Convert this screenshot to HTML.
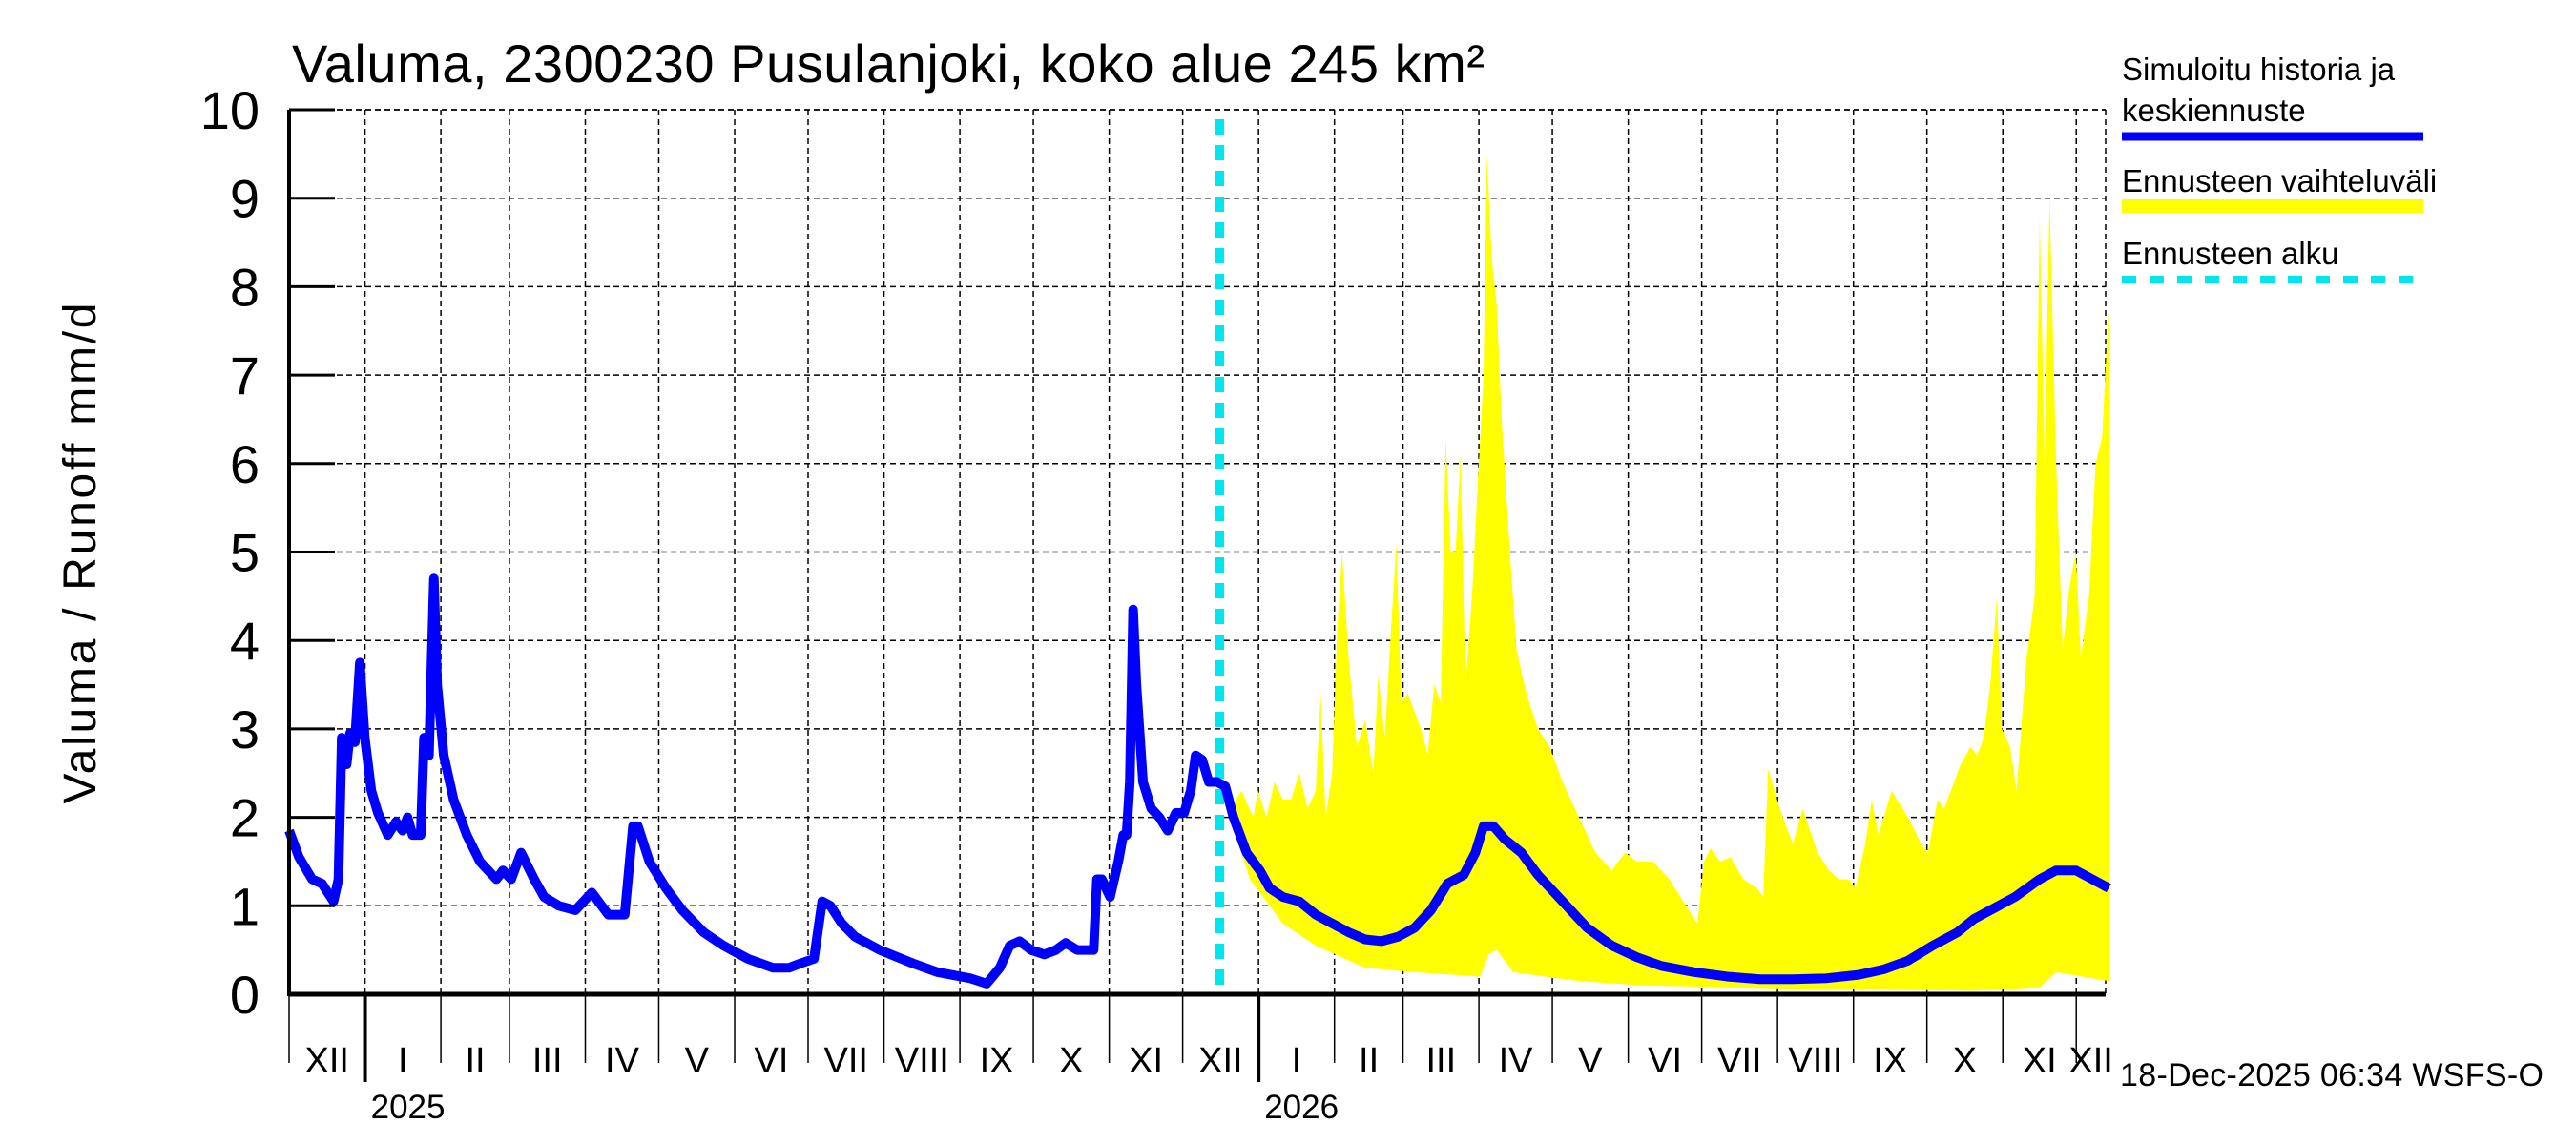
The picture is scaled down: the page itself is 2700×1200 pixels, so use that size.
<!DOCTYPE html>
<html><head><meta charset="utf-8"><style>
html,body{margin:0;padding:0;background:#fff;}
svg{display:block;font-family:"Liberation Sans",sans-serif;}
</style></head><body>
<svg id="chart" width="2700" height="1200" viewBox="0 0 2700 1200" xmlns="http://www.w3.org/2000/svg">
<text x="306" y="86" font-size="56" textLength="1250">Valuma, 2300230 Pusulanjoki, koko alue 245 km²</text>
<text transform="translate(100,580) rotate(-90)" text-anchor="middle" font-size="48" textLength="525">Valuma / Runoff    mm/d</text>
<g id="grid"></g>
<g id="band"></g>
<g id="lines"></g>
<g id="axes"></g>
<g>
<text x="2224" y="84" font-size="33">Simuloitu historia ja</text>
<text x="2224" y="127" font-size="33">keskiennuste</text>
<line x1="2224" y1="143" x2="2540" y2="143" stroke="#0000ff" stroke-width="9"/>
<text x="2224" y="201" font-size="33">Ennusteen vaihteluväli</text>
<line x1="2224" y1="216" x2="2540" y2="216" stroke="#ffff00" stroke-width="14"/>
<text x="2224" y="277" font-size="33">Ennusteen alku</text>
<line x1="2224" y1="293" x2="2540" y2="293" stroke="#00e5ee" stroke-width="8" stroke-dasharray="15,14"/>
</g>
<text x="2222" y="1138" font-size="34" textLength="444">18-Dec-2025 06:34 WSFS-O</text>
</svg>
<script>
const NS='http://www.w3.org/2000/svg';
const histX=[176,182,190,196,203,206,208,211,213,216,219,222,226,230,236,241,245,248,251,256,258,261,264,266,270,276,284,292,302,306,311,317,325,331,340,350,360,370,380,385,388,395,405,415,428,440,455,470,480,487,495,500,505,512,520,535,555,570,590,600,608,614,620,627,635,642,648,655,665,667,670,675,680,683,685,687,689,691,695,700,705,710,715,720,724,727,731,735,740,745,750,758,766,772,780,790,800,810,820,830,840,850,860,870,880,890,897,902,908,915,925,935,945,955,965,980,995,1010,1030,1050,1070,1090,1110,1130,1145,1160,1175,1190,1200,1215,1225,1240,1250,1262,1272,1282];
const histV=[1.85,1.55,1.3,1.25,1.05,1.3,2.9,2.6,2.95,2.85,3.75,2.9,2.3,2.05,1.8,1.95,1.85,2.0,1.8,1.8,2.9,2.7,4.7,3.5,2.7,2.2,1.8,1.5,1.3,1.4,1.3,1.6,1.3,1.1,1.0,0.95,1.15,0.9,0.9,1.9,1.9,1.5,1.2,0.95,0.7,0.55,0.4,0.3,0.3,0.35,0.4,1.05,1.0,0.8,0.65,0.5,0.35,0.25,0.18,0.12,0.3,0.55,0.6,0.5,0.45,0.5,0.58,0.5,0.5,1.3,1.3,1.1,1.5,1.8,1.8,2.4,4.35,3.5,2.4,2.1,2.0,1.85,2.05,2.05,2.3,2.7,2.65,2.4,2.4,2.35,2.0,1.6,1.4,1.2,1.1,1.05,0.9,0.8,0.7,0.62,0.6,0.65,0.75,0.95,1.25,1.35,1.6,1.9,1.9,1.75,1.6,1.35,1.15,0.95,0.75,0.55,0.42,0.32,0.25,0.2,0.17,0.17,0.18,0.22,0.28,0.38,0.55,0.7,0.85,1.0,1.1,1.3,1.4,1.4,1.3,1.2];
const upX=[742,748,755,762,765,770,775,780,785,790,795,800,803,806,810,813,816,820,825,830,835,838,842,846,849,852,856,860,864,868,872,876,879,882,885,888,891,895,898,902,904,907,910,913,918,922,928,935,942,950,960,970,980,988,995,1005,1015,1025,1032,1036,1040,1046,1052,1060,1068,1072,1075,1082,1090,1096,1105,1112,1118,1124,1128,1134,1138,1142,1150,1160,1168,1172,1178,1182,1188,1192,1198,1202,1206,1210,1214,1217,1222,1226,1232,1237,1240,1243,1246,1250,1254,1258,1262,1265,1270,1274,1278,1282];
const upV=[2.4,2.1,2.3,2.0,2.3,2.0,2.4,2.2,2.2,2.5,2.1,2.3,3.4,2.0,2.5,4.1,5.0,3.8,2.8,3.1,2.5,3.6,2.9,4.2,5.1,3.3,3.4,3.2,3.0,2.7,3.5,3.3,6.3,5.0,5.0,6.1,3.5,4.5,5.6,7.0,9.5,8.3,7.8,6.5,5.0,3.9,3.4,3.0,2.8,2.4,2.0,1.6,1.4,1.6,1.5,1.5,1.3,1.0,0.8,1.5,1.65,1.5,1.55,1.3,1.2,1.1,2.55,2.1,1.7,2.1,1.6,1.4,1.3,1.3,1.2,1.7,2.2,1.8,2.3,2.0,1.7,1.6,2.2,2.1,2.4,2.6,2.8,2.7,2.9,3.5,4.5,3.0,2.8,2.3,3.8,4.5,8.8,6.0,9.0,6.0,3.9,4.6,5.0,3.8,4.5,6.0,6.3,7.8];
const loX=[742,760,780,800,830,860,900,905,910,920,960,1000,1100,1200,1240,1250,1282];
const loV=[2.3,1.3,0.8,0.55,0.3,0.25,0.2,0.45,0.5,0.25,0.15,0.1,0.06,0.04,0.08,0.25,0.15];
const yTicks=[0,1,2,3,4,5,6,7,8,9,10];
const monthLabels=['XII','I','II','III','IV','V','VI','VII','VIII','IX','X','XI','XII','I','II','III','IV','V','VI','VII','VIII','IX','X','XI','XII'];
const monthDays=[31,31,28,31,30,31,30,31,31,30,31,30,31,31,28,31,30,31,30,31,31,30,31,30,31];
const forecastDay=380;
const totalDays=742;

const X0=303,X1=2207,Y0=1042,Y1=115;
const pxDay=(X1-X0)/totalDays;
const xd=d=>X0+d*pxDay;
const yv=v=>Y0-(v/10)*(Y0-Y1);
const thumbToDay=t=>(t-176)/1.488;
const xt=t=>xd(thumbToDay(t));
function mk(tag,attrs,parent){const e=document.createElementNS(NS,tag);for(const k in attrs)e.setAttribute(k,attrs[k]);parent.appendChild(e);return e;}
const grid=document.getElementById('grid'),axes=document.getElementById('axes'),band=document.getElementById('band'),lines=document.getElementById('lines');
yTicks.forEach(v=>{
 if(v>0){const g=mk('line',{x1:X0,y1:yv(v),x2:X1,y2:yv(v),stroke:'#000','stroke-width':1.5,'stroke-dasharray':'6,4'},grid);
 }
 const t=mk('line',{x1:X0,y1:yv(v),x2:X0+48,y2:yv(v),stroke:'#000','stroke-width':3},axes);
 
 const l=mk('text',{x:272,y:yv(v)+20,'text-anchor':'end','font-size':56},axes);l.textContent=v;
 
});
let d=0;
monthLabels.forEach((m,i)=>{
 const s=d,e=Math.min(d+monthDays[i],totalDays);
 if(i>0){const g=mk('line',{x1:xd(s),y1:Y1,x2:xd(s),y2:Y0,stroke:'#000','stroke-width':1.5,'stroke-dasharray':'6,4'},grid);
 }
 const yr=(m==='I');
 const tk=mk('line',{x1:xd(s),y1:Y0,x2:xd(s),y2:yr?1134:1114,stroke:'#000','stroke-width':yr?4:1.5},axes);
 
 const lb=mk('text',{x:(xd(s)+xd(e))/2,y:1124,'text-anchor':'middle','font-size':38},axes);lb.textContent=m;
 
 d+=monthDays[i];
});
const rg=mk('line',{x1:X1,y1:Y1,x2:X1,y2:Y0,stroke:'#000','stroke-width':1.5,'stroke-dasharray':'6,4'},grid);

const tg=mk('line',{x1:X0,y1:Y1,x2:X1,y2:Y1,stroke:'#000','stroke-width':1.5,'stroke-dasharray':'6,4'},grid);

[['2025',xd(31)+45],['2026',xd(396)+45]].forEach(a=>{const t=mk('text',{x:a[1],y:1172,'text-anchor':'middle','font-size':35},axes);t.textContent=a[0];
 });
let pts=upX.map((t,i)=>xt(t)+','+yv(upV[i]));
for(let i=loX.length-1;i>=0;i--)pts.push(xt(loX[i])+','+yv(loV[i]));
const poly=mk('polygon',{points:pts.join(' '),fill:'#ffff00'},band);

const ya=mk('line',{x1:X0,y1:Y1,x2:X0,y2:Y0+2,stroke:'#000','stroke-width':4},axes);

const xa=mk('line',{x1:X0,y1:Y0,x2:X1,y2:Y0,stroke:'#000','stroke-width':5},axes);

const fs=mk('line',{x1:xd(forecastDay),y1:125,x2:xd(forecastDay),y2:Y0,stroke:'#00e5ee','stroke-width':10,'stroke-dasharray':'16,11'},lines);

const bl=mk('polyline',{points:histX.map((t,i)=>xt(t)+','+yv(histV[i])).join(' '),fill:'none',stroke:'#0000ff','stroke-width':10,'stroke-linejoin':'round'},lines);

</script>
</body></html>
